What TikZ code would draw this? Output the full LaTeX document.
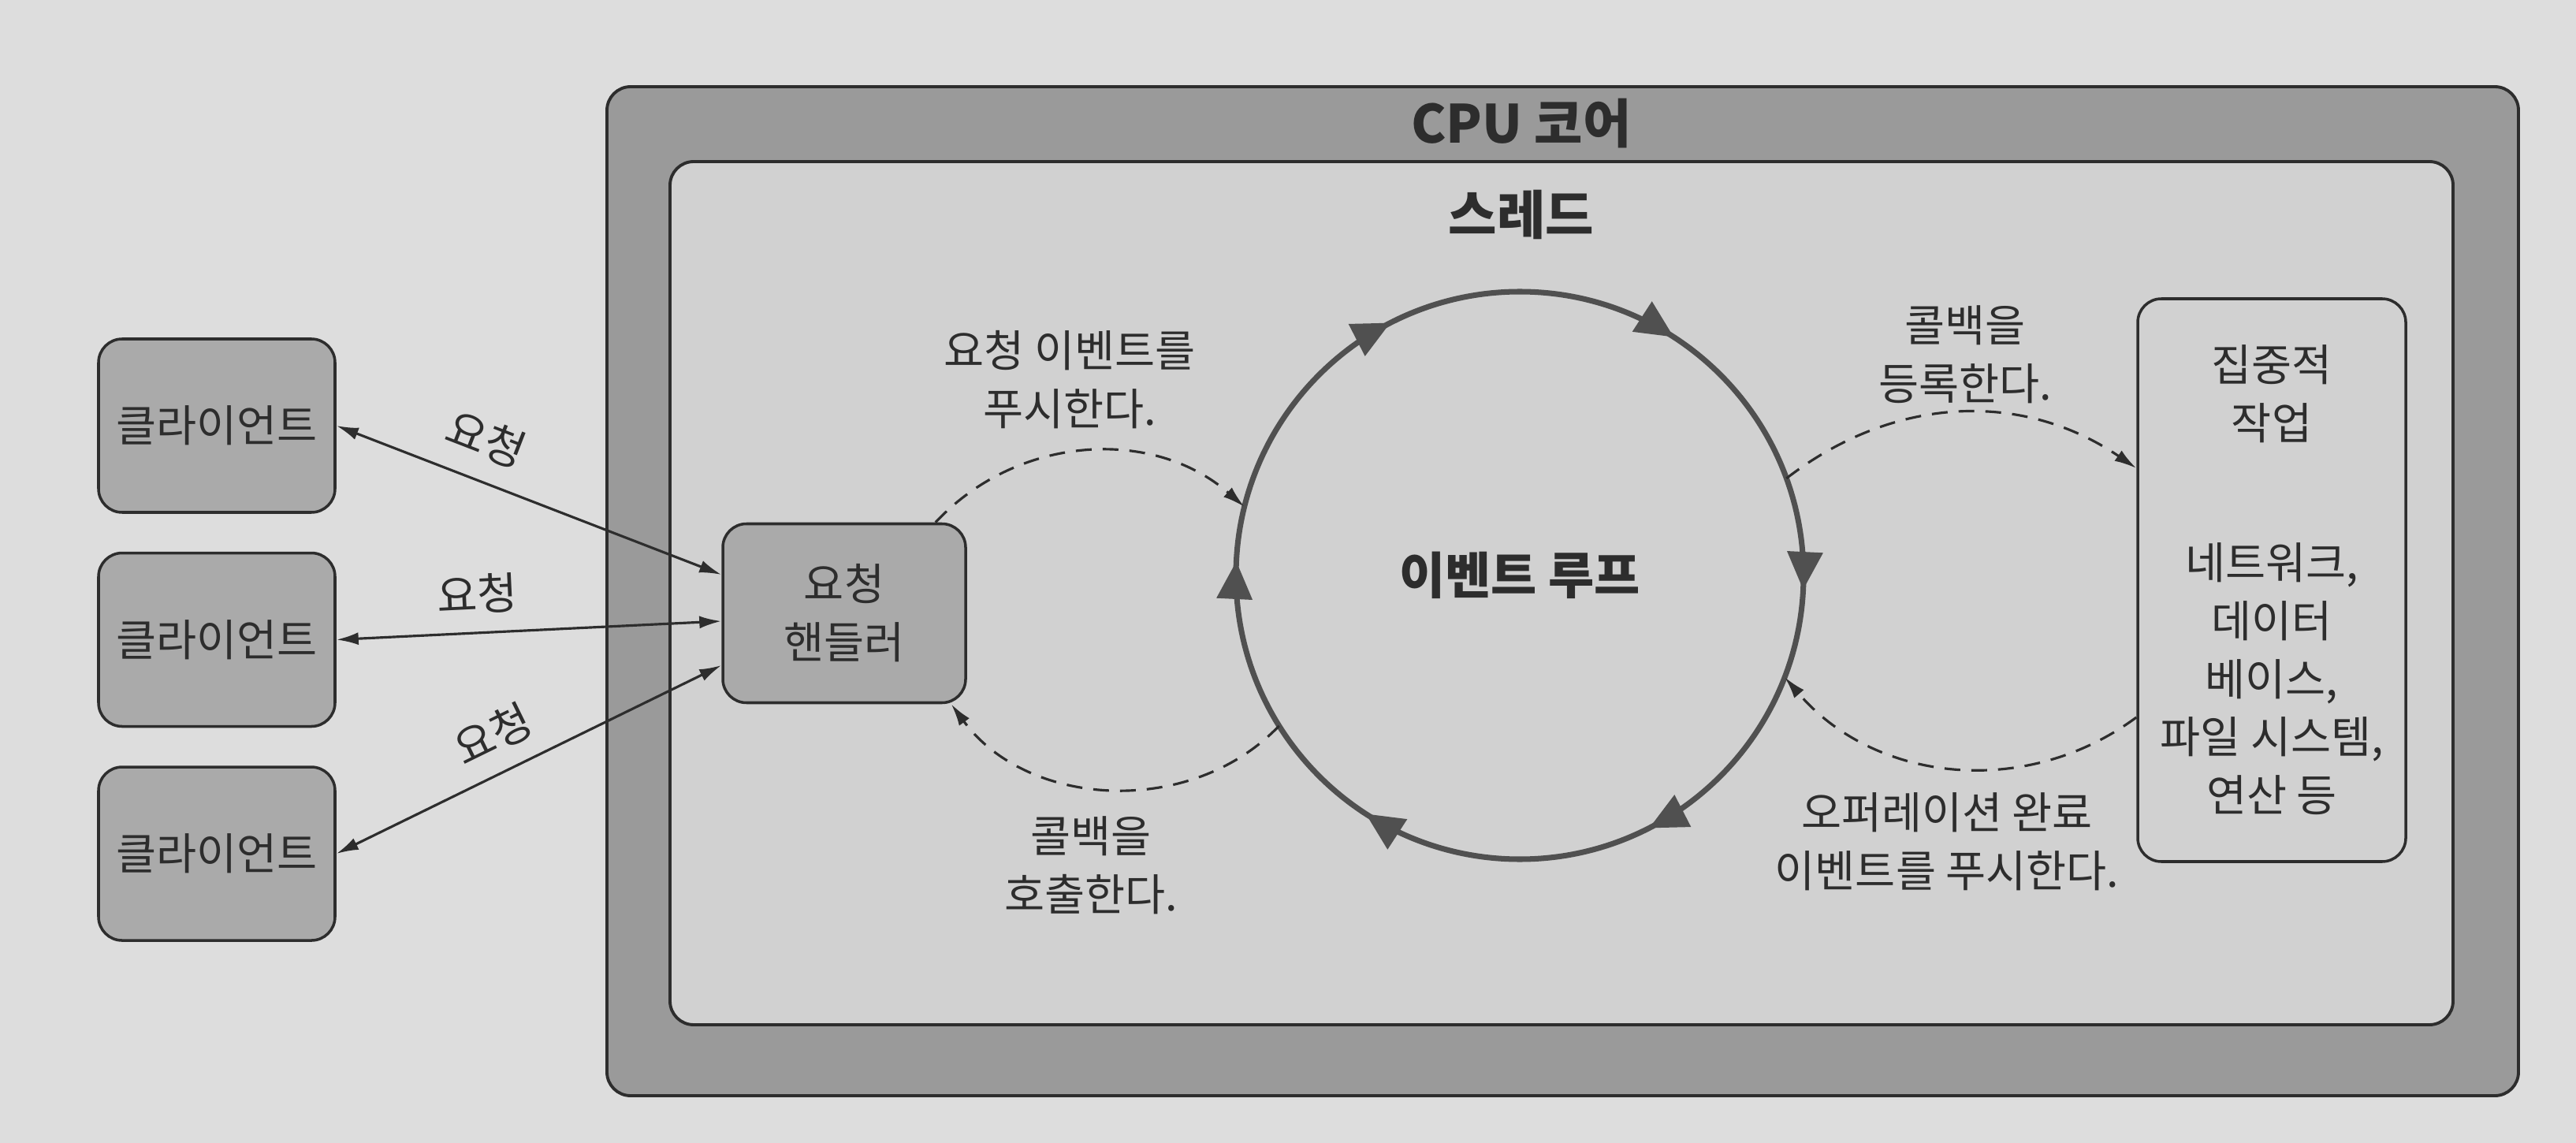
\documentclass[tikz,border=0pt]{standalone}
\usepackage{fontspec}
\setmainfont{Noto Sans CJK KR}
\usetikzlibrary{positioning,arrows.meta,decorations.markings}
\definecolor{pagebg}{RGB}{221,221,221}
\definecolor{threadbg}{RGB}{209,209,209}
\definecolor{coreband}{RGB}{154,154,154}
\definecolor{boxgray}{RGB}{170,170,170}
\definecolor{inkgray}{RGB}{45,45,45}
\definecolor{loopgray}{RGB}{80,80,80}
\begin{document}
\begin{tikzpicture}[%
    every node/.style={text=inkgray,align=center,font=\fontsize{15.8}{21}\selectfont},%
    headfont/.style={font=\fontsize{19}{23}\selectfont\bfseries},%
    corebox/.style={draw=inkgray,line width=1.1pt,rounded corners=0.3cm},%
    ibox/.style={draw=inkgray,line width=1pt,rounded corners=0.3cm,fill=boxgray,%
        minimum width=3cm,minimum height=2.2cm},%
    reqline/.style={draw=inkgray,line width=0.9pt,%
        {Latex[length=0.28cm,width=0.16cm]}-{Latex[length=0.28cm,width=0.16cm]}},%
    evline/.style={draw=inkgray,line width=0.9pt,dash pattern=on 0.2cm off 0.14cm,%
        -{Latex[length=0.28cm,width=0.16cm]}},%
    loopline/.style={draw=loopgray,line width=2pt},%
    looparrows/.style={%
        postaction={%
            decorate,%
            decoration={%
                markings,%
                mark=between positions 0.008 and 0.99 step 0.16667 with
                    {\arrow{Triangle[length=0.48cm,width=0.44cm]}}%
            }%
        }%
    },%
]%
    \pgfmathsetmacro{\R}{3.6}

    \fill[pagebg] (0,0) rectangle (32.68,-14.50);
    \useasboundingbox (0,0) rectangle (32.68,-14.50);

    % cpu core and thread
    \draw[corebox,fill=coreband] (7.70,-1.10) rectangle (31.95,-13.90);
    \draw[corebox,fill=threadbg] (8.50,-2.05) rectangle (31.12,-13.00);
    \node[headfont] (corelbl) at (19.30,-1.57) {CPU 코어};
    \node[headfont] (threadlbl) at (19.30,-2.72) {스레드};

    % clients
    \node[ibox] (cl1) at (2.75,-5.40) {클라이언트};
    \node[ibox,below=0.48cm of cl1] (cl2) {클라이언트};
    \node[ibox,below=0.48cm of cl2] (cl3) {클라이언트};

    % handler, loop, work
    \node[ibox,minimum width=3.08cm,minimum height=2.27cm] (hdl) at (10.71,-7.78) {요청\\핸들러};
    \node[circle,minimum size=2*\R cm,inner sep=0pt,outer sep=0pt,
        font=\fontsize{18}{22}\selectfont\bfseries] (loop) at (19.28,-7.30) {이벤트 루프};
    \draw[loopline,looparrows] (loop.center) ++(180:\R)
        arc[start angle=180,delta angle=-360,radius=\R];
    \node[ibox,fill=threadbg,minimum width=3.4cm,minimum height=7.14cm] (work) at (28.82,-7.36)
        {집중적\\작업\\[1.03cm]네트워크,\\데이터\\베이스,\\파일 시스템,\\연산 등};

    % requests
    \draw[reqline] (cl1.east) -- ([yshift=0.49cm]hdl.west)
        node[pos=0.35,above=4pt,sloped] (rq1) {요청};
    \draw[reqline] (cl2.east) -- ([yshift=-0.1cm]hdl.west)
        node[pos=0.37,above=3pt,sloped] (rq2) {요청};
    \draw[reqline] (cl3.east) -- ([yshift=-0.66cm]hdl.west)
        node[pos=0.45,above=3pt,sloped] (rq3) {요청};

    % events and callbacks
    \draw[evline] ([xshift=-0.4cm]hdl.north east) to[bend left=44] (loop.166);
    \draw[evline] (loop.212) to[bend left=50] ([xshift=-0.2cm]hdl.south east);
    \draw[evline] (loop.20) to[bend left=36] ([yshift=1.42cm]work.west);
    \draw[evline] ([yshift=-1.74cm]work.west) to[bend left=43] (loop.-21);
    \node (pushlbl) at (13.57,-4.82) {요청 이벤트를\\푸시한다.};
    \node (calllbl) at (13.84,-10.98) {콜백을\\호출한다.};
    \node (reglbl) at (24.93,-4.50) {콜백을\\등록한다.};
    \node (donelbl) at (24.70,-10.68) {오퍼레이션 완료\\이벤트를 푸시한다.};
\end{tikzpicture}
\end{document}
